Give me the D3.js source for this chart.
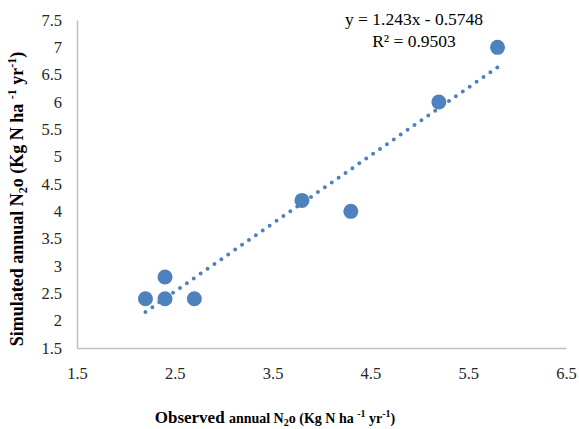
<!DOCTYPE html>
<html>
<head>
<meta charset="utf-8">
<script src="https://cdn.jsdelivr.net/npm/d3@7"></script>
<style>
  html, body { margin: 0; padding: 0; background: #fff; }
  svg { display: block; font-family: "Liberation Serif", "Times New Roman", serif; }
</style>
</head>
<body>
<div id="container"></div>
<script>
"use strict"

// observed vs simulated annual N2O
const observed = [2.2, 2.4, 2.4, 2.7, 3.8, 4.3, 5.2, 5.8];
const simulated = [2.4, 2.8, 2.4, 2.4, 4.2, 4.0, 6.0, 7.0];
const xTicks = [1.5, 2.5, 3.5, 4.5, 5.5, 6.5];
const yTicks = [1.5, 2, 2.5, 3, 3.5, 4, 4.5, 5, 5.5, 6, 6.5, 7, 7.5];
const trendSlope = 1.243;
const trendIntercept = -0.5748;
const equationText = "y = 1.243x - 0.5748";
const rSquaredText = "R² = 0.9503";

const width = 579;
const height = 429;
const margin = { left: 77, right: 13, top: 20, bottom: 81 };
const pointColor = "#4f81bd";
const axisColor = "#bfbfbf";

const svg = d3.select("#container").append("svg")
    .attr("width", width)
    .attr("height", height);

const x = d3.scaleLinear()
    .domain([1.5, 6.5])
    .range([margin.left, width - margin.right]);

const y = d3.scaleLinear()
    .domain([1.5, 7.5])
    .range([height - margin.bottom, margin.top]);

// axes (no ticks, only labels)
const xAxis = svg.append("g")
    .attr("transform", `translate(0,${height - margin.bottom})`)
    .call(d3.axisBottom(x).tickValues(xTicks).tickSize(0).tickPadding(19).tickFormat(d3.format("")));
xAxis.select(".domain").attr("stroke", axisColor).attr("stroke-width", 1.5);
xAxis.selectAll("text").attr("font-size", 16.5).attr("fill", "#262626").attr("font-family", "Liberation Serif, serif");

const yAxis = svg.append("g")
    .attr("transform", `translate(${margin.left},0)`)
    .call(d3.axisLeft(y).tickValues(yTicks).tickSize(0).tickPadding(15).tickFormat(d3.format("")));
yAxis.select(".domain").attr("stroke", axisColor).attr("stroke-width", 1.5);
yAxis.selectAll("text").attr("font-size", 16.5).attr("fill", "#262626").attr("font-family", "Liberation Serif, serif");

// dotted linear trendline over the data range
const xExtent = d3.extent(observed);
svg.append("line")
    .attr("x1", x(xExtent[0]))
    .attr("y1", y(trendSlope * xExtent[0] + trendIntercept))
    .attr("x2", x(xExtent[1]))
    .attr("y2", y(trendSlope * xExtent[1] + trendIntercept))
    .attr("stroke", pointColor)
    .attr("stroke-width", 4)
    .attr("stroke-linecap", "round")
    .attr("stroke-dasharray", "0 8.4");

// points
svg.append("g")
    .selectAll("circle")
    .data(observed)
    .enter()
    .append("circle")
    .attr("cx", d => x(d))
    .attr("cy", (d, i) => y(simulated[i]))
    .attr("r", 7.5)
    .attr("fill", pointColor);

// equation label
const eq = svg.append("text")
    .attr("text-anchor", "middle")
    .attr("font-size", 17.5)
    .attr("fill", "#000");
eq.append("tspan").attr("x", 414).attr("y", 25).text(equationText);
eq.append("tspan").attr("x", 414).attr("y", 47).text(rSquaredText);

// x axis title
const xTitle = svg.append("text")
    .attr("x", 275)
    .attr("y", 423)
    .attr("text-anchor", "middle")
    .attr("font-weight", "bold")
    .attr("fill", "#000");
xTitle.append("tspan").attr("font-size", 17).text("Observed ");
xTitle.append("tspan").attr("font-size", 14).text("annual N");
xTitle.append("tspan").attr("font-size", 10).attr("dy", 3).text("2");
xTitle.append("tspan").attr("font-size", 14).attr("dy", -3).text("o (Kg N ha ");
xTitle.append("tspan").attr("font-size", 10).attr("dy", -6).text("-1");
xTitle.append("tspan").attr("font-size", 14).attr("dy", 6).text(" yr");
xTitle.append("tspan").attr("font-size", 10).attr("dy", -6).text("-1");
xTitle.append("tspan").attr("font-size", 14).attr("dy", 6).text(")");

// y axis title
const yTitle = svg.append("text")
    .attr("transform", "translate(23,199) rotate(-90)")
    .attr("text-anchor", "middle")
    .attr("font-weight", "bold")
    .attr("font-size", 18)
    .attr("fill", "#000");
yTitle.append("tspan").text("Simulated annual N");
yTitle.append("tspan").attr("font-size", 12).attr("dy", 4).text("2");
yTitle.append("tspan").attr("dy", -4).text("o (Kg N ha ");
yTitle.append("tspan").attr("font-size", 12).attr("dy", -7).text("-1");
yTitle.append("tspan").attr("dy", 7).text(" yr");
yTitle.append("tspan").attr("font-size", 12).attr("dy", -7).text("-1");
yTitle.append("tspan").attr("dy", 7).text(")");
</script>
</body>
</html>
